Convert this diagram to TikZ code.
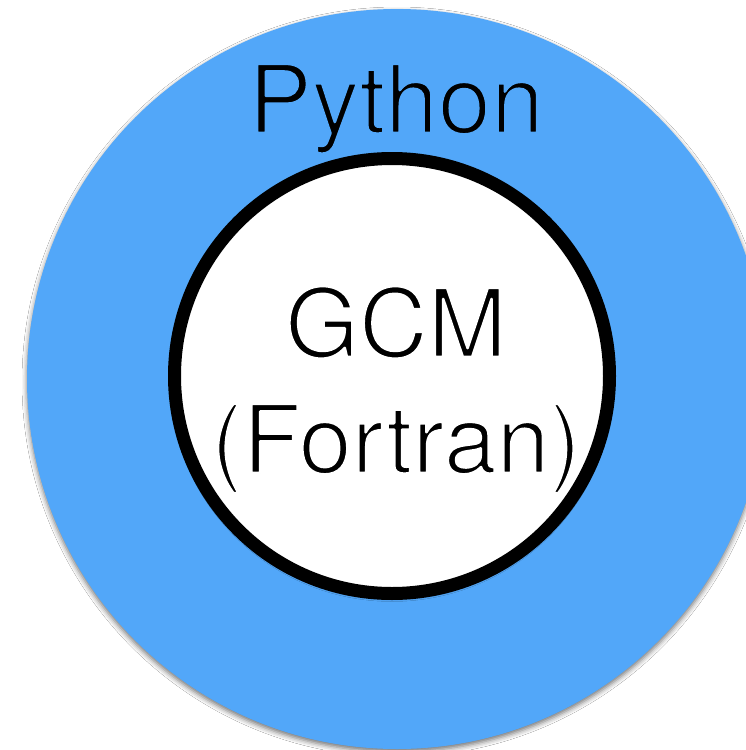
\documentclass[tikz,border=0pt]{standalone}
\usepackage{fontspec}
\setmainfont{TeX Gyre Heros}
\usetikzlibrary{shadows.blur}

\definecolor{pyblue}{RGB}{82,167,249}

% Light-weight lettering: fill the glyphs, then stroke their outlines
% in the colour of the ground so that the strokes come out thinner.
\newcommand\lighttext[2]{%
  \special{pdf:literal direct 2 Tr 2.6 w 1 j #1 RG}#2%
  \special{pdf:literal direct 0 Tr}}

\tikzset{
  label text/.style={font=\fontsize{95}{95}\selectfont, inner sep=0pt, anchor=base, text=black},
  soft shadow/.style={blur shadow={shadow xshift=0pt, shadow yshift=-3pt,
      shadow blur radius=5pt, shadow opacity=55}},
}

\begin{document}
\begin{tikzpicture}[x=1pt,y=-1pt]
  \useasboundingbox (0,0) rectangle (746,750);
  \fill[white] (0,0) rectangle (746,750);

  % outer layer
  \node[circle, fill=pyblue, minimum size=740pt, inner sep=0pt, soft shadow]
    (outer) at (397,379) {};
  \node[label text] (python) at (396,133) {\lighttext{0.322 0.655 0.976}{Python}};

  % inner model
  \node[circle, draw=black, line width=13pt, fill=white, minimum size=435pt,
        inner sep=0pt, soft shadow] (inner) at (392,376) {};
  \node[label text] (gcm) at (396,357) {\lighttext{1 1 1}{GCM}};
  \node[label text] (fortran) at (396,473) {\lighttext{1 1 1}{(Fortran)}};
\end{tikzpicture}
\end{document}
